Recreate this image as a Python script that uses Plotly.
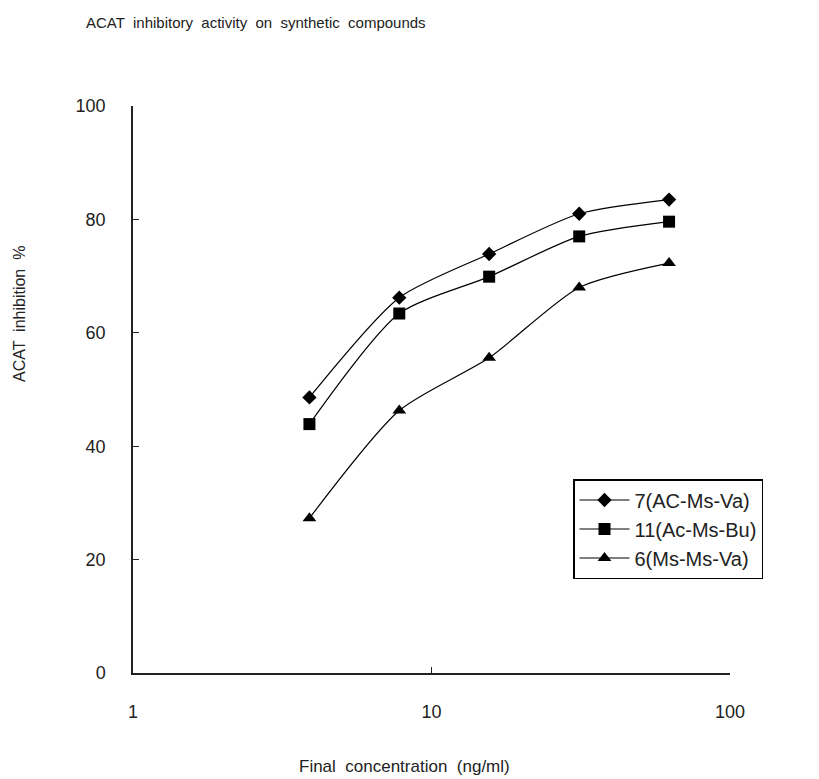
import plotly.graph_objects as go

concentration = [3.9, 7.8, 15.6, 31.25, 62.5]
series_names = ["7(AC-Ms-Va)", "11(Ac-Ms-Bu)", "6(Ms-Ms-Va)"]
values_7 = [48.6, 66.2, 73.9, 81.0, 83.5]
values_11 = [43.9, 63.4, 69.9, 77.0, 79.6]
values_6 = [27.3, 46.3, 55.6, 68.0, 72.3]
x_ticks = [1, 10, 100]
y_ticks = [0, 20, 40, 60, 80, 100]

W, H = 819, 779
L, R, T, B = 133, 89, 106, 106
pw, ph = W - L - R, H - T - B

def px_x(p):
    return (p - L) / pw

def px_y(p):
    return 1 - (p - T) / ph

FONT = "Liberation Sans, Arial, sans-serif"

fig = go.Figure()
for name, vals, sym, size in [
    (series_names[0], values_7, "diamond", 11),
    (series_names[1], values_11, "square", 12),
    (series_names[2], values_6, "triangle-up", 12),
]:
    fig.add_trace(go.Scatter(
        x=concentration, y=vals, name=name, mode="lines+markers",
        line=dict(color="black", width=1.2, shape="spline", smoothing=0.7),
        marker=dict(symbol=sym, size=size, color="black"),
    ))

fig.update_layout(
    width=W, height=H,
    margin=dict(l=L, r=R, t=T, b=B),
    paper_bgcolor="white", plot_bgcolor="white",
    font=dict(family=FONT, color="#222", size=18),
    showlegend=True,
    legend=dict(
        x=px_x(573), y=px_y(479), xanchor="left", yanchor="top",
        bordercolor="black", borderwidth=1.5, bgcolor="white",
        font=dict(size=20, family=FONT, color="#222"),
        tracegroupgap=4, itemwidth=50,
    ),
    xaxis=dict(
        type="log", range=[0, 2], tickvals=x_ticks, ticktext=[str(v) for v in x_ticks],
        showgrid=False, zeroline=False, showline=True, linecolor="#222", linewidth=1.5,
        ticks="inside", ticklen=6, tickcolor="#222", ticklabelstandoff=22,
        tickfont=dict(size=18),
    ),
    yaxis=dict(
        range=[0, 100], tickvals=y_ticks,
        showgrid=False, zeroline=False, showline=True, linecolor="#222", linewidth=1.5,
        ticks="inside", ticklen=6, tickcolor="#222", ticklabelstandoff=22,
        tickfont=dict(size=18),
    ),
    annotations=[
        dict(text="ACAT  inhibitory  activity  on  synthetic  compounds",
             xref="paper", yref="paper", x=px_x(84), y=px_y(22),
             xanchor="left", yanchor="middle", showarrow=False,
             font=dict(size=15, family=FONT, color="#222")),
        dict(text="ACAT  inhibition  %",
             xref="paper", yref="paper", x=px_x(19), y=px_y(314),
             xanchor="center", yanchor="middle", showarrow=False, textangle=-90,
             font=dict(size=16, family=FONT, color="#222")),
        dict(text="Final  concentration  (ng/ml)",
             xref="paper", yref="paper", x=px_x(404), y=px_y(766),
             xanchor="center", yanchor="middle", showarrow=False,
             font=dict(size=17, family=FONT, color="#222")),
    ],
)

fig.write_html("out.html")
